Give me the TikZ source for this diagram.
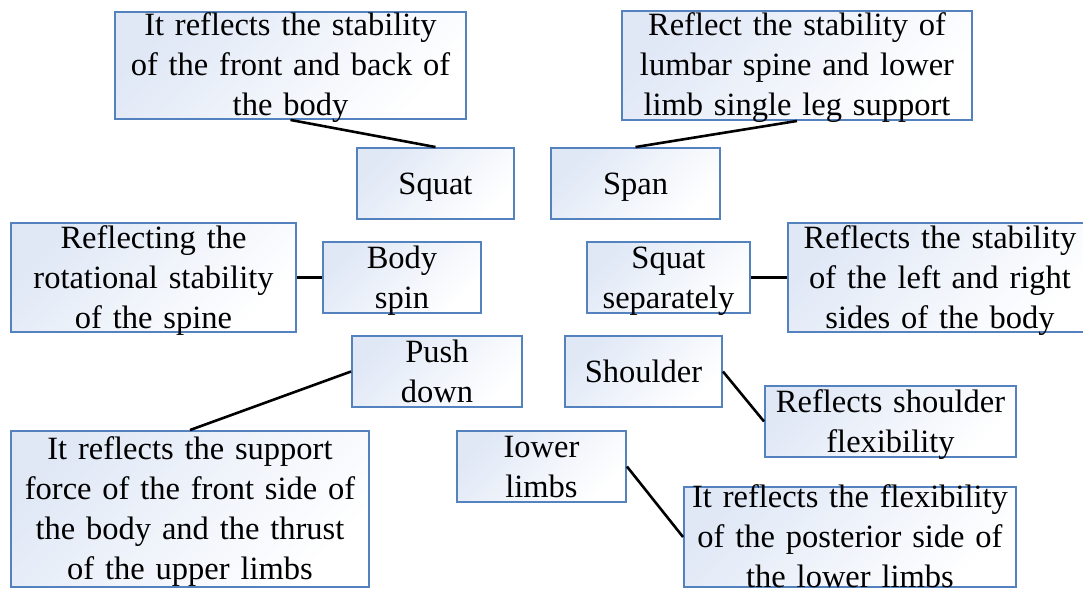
\documentclass[tikz,border=0pt]{standalone}
\usepackage{fontspec}
\setmainfont{Liberation Serif}
\usetikzlibrary{positioning}

\definecolor{boxblue}{RGB}{84,130,190}
\definecolor{boxfill}{RGB}{224,232,246}

\begin{document}
\begin{tikzpicture}[
    x=1pt, y=-1pt,
    box/.style={rectangle, draw=boxblue, line width=1.9pt, top color=boxfill, middle color=white, bottom color=white, shading angle=45,
        inner xsep=0pt, inner ysep=-25pt, align=center, font=\fontsize{32.5}{40}\selectfont,
        execute at begin node={\rule{0pt}{28pt}}, execute at end node={\rule[-7pt]{0pt}{0pt}}},
    small/.style={box, minimum height=71},
    link/.style={line width=2.6pt, black}
]
    \useasboundingbox (0,0) rectangle (1083,590);

    % Squat
    \node[small, minimum width=157, text width=157] (squat) at (435.5,183.5) {Squat};
    \node[box, minimum width=351, minimum height=107, text width=351] (frontback) at (290.5,65.5)
        {It reflects the stability\\of the front and back of\\the body};

    % Span
    \node[small, minimum width=169, text width=169] (span) at (635.5,183.5) {Span};
    \node[box, minimum width=350, minimum height=109, text width=350] (lumbar) at (797,65.5)
        {Reflect the stability of\\lumbar spine and lower\\limb single leg support};

    % Body spin
    \node[small, minimum width=158, text width=158] (bodyspin) at (402,277.5) {Body\\spin};
    \node[box, minimum width=285, minimum height=109, text width=285] (rotation) at (153.5,277.5)
        {Reflecting the\\rotational stability\\of the spine};

    % Squat separately
    \node[small, minimum width=163, text width=163] (squatsep) at (668.5,277.5) {Squat\\separately};
    \node[box, minimum width=304, minimum height=109, text width=304] (leftright) at (940,277.5)
        {Reflects the stability\\of the left and right\\sides of the body};

    % Push down
    \node[small, minimum width=170, text width=170] (pushdown) at (437,371.5) {Push\\down};
    \node[box, minimum width=358, minimum height=156, text width=358] (support) at (190,509)
        {It reflects the support\\force of the front side of\\the body and the thrust\\of the upper limbs};

    % Shoulder
    \node[small, minimum width=157, text width=157] (shoulder) at (643.5,371.5) {Shoulder};
    \node[small, minimum width=251, text width=251] (shoulderflex) at (890.5,421.5)
        {Reflects shoulder\\flexibility};

    % Lower limbs
    \node[small, minimum width=169, text width=169] (lowerlimbs) at (541.5,466.5) {Iower\\limbs};
    \node[box, minimum width=332, minimum height=100, text width=332] (posterior) at (850,537)
        {It reflects the flexibility\\of the posterior side of\\the lower limbs};

    % Links
    \draw[link] (squat.north) -- (frontback.south);
    \draw[link] (span.north) -- (lumbar.south);
    \draw[link] (rotation.east) -- (bodyspin.west);
    \draw[link] (squatsep.east) -- (leftright.west);
    \draw[link] (pushdown.west) -- (support.north);
    \draw[link] (shoulder.east) -- (shoulderflex.west);
    \draw[link] (lowerlimbs.east) -- (posterior.west);

\end{tikzpicture}
\end{document}
